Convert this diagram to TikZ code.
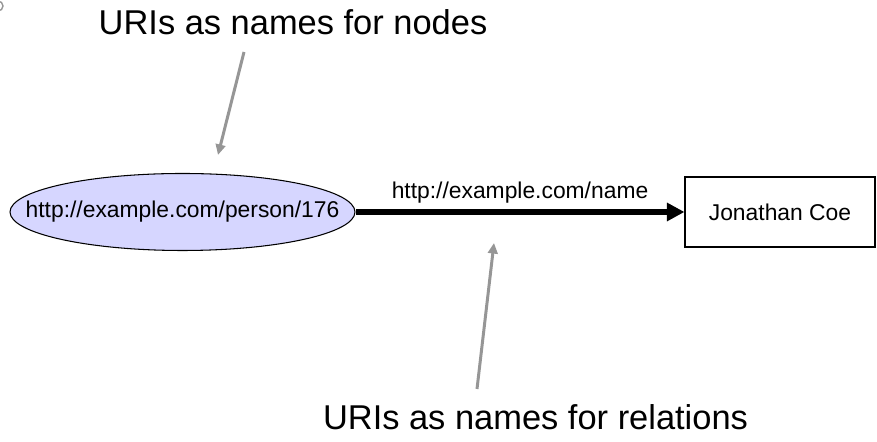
\documentclass[tikz,border=0pt]{standalone}
\usepackage{fontspec}
\setmainfont{Liberation Sans}
\usepackage{tikz}
\usetikzlibrary{arrows.meta, positioning, shapes.geometric}
\usepackage{xcolor}
\definecolor{urifill}{RGB}{214,214,255}
\definecolor{notegray}{RGB}{150,150,150}

\begin{document}
\begin{tikzpicture}[
    resource/.style={ellipse, draw=black, line width=0.6pt, fill=urifill, inner sep=0pt,
        minimum width=6.9cm, minimum height=1.54cm, font=\fontsize{13}{15}\selectfont},
    literal/.style={rectangle, draw=black, line width=0.6pt, inner sep=0pt,
        minimum width=3.8cm, minimum height=1.4cm, font=\fontsize{13}{15}\selectfont},
    property/.style={line width=3pt, -{Triangle[length=10pt, width=10pt]}},
    note/.style={font=\fontsize{19.6}{23}\selectfont, inner sep=0pt},
    pointer/.style={notegray, line width=1.7pt, -{Triangle[length=6pt, width=5.5pt]}}
]
    \useasboundingbox (0, 0) rectangle (17.54, 8.84);
    \draw[notegray, line width=0.8pt] (-0.04, 8.72) circle (0.1);

    % the triple
    \node[resource] (person) at (3.65, 4.6) {\makebox[0pt]{http://example.com/person/176}};
    \node[literal] (coe) at (15.6, 4.6) {Jonathan Coe};
    \draw[property] (person) -- node[above, font=\fontsize{13}{15}\selectfont] (pname) {http://example.com/name} (coe);

    % notes
    \node[note, anchor=base] (nodesnote) at (5.86, 8.14) {URIs as names for nodes};
    \coordinate (nodesfrom) at (4.88, 7.8);
    \coordinate (nodesto) at (4.36, 5.74);
    \draw[pointer] (nodesfrom) -- (nodesto);

    \node[note, anchor=base] (relnote) at (10.71, 0.24) {URIs as names for relations};
    \coordinate (relfrom) at (9.54, 1.06);
    \coordinate (relto) at (9.88, 3.98);
    \draw[pointer] (relfrom) -- (relto);
\end{tikzpicture}
\end{document}
